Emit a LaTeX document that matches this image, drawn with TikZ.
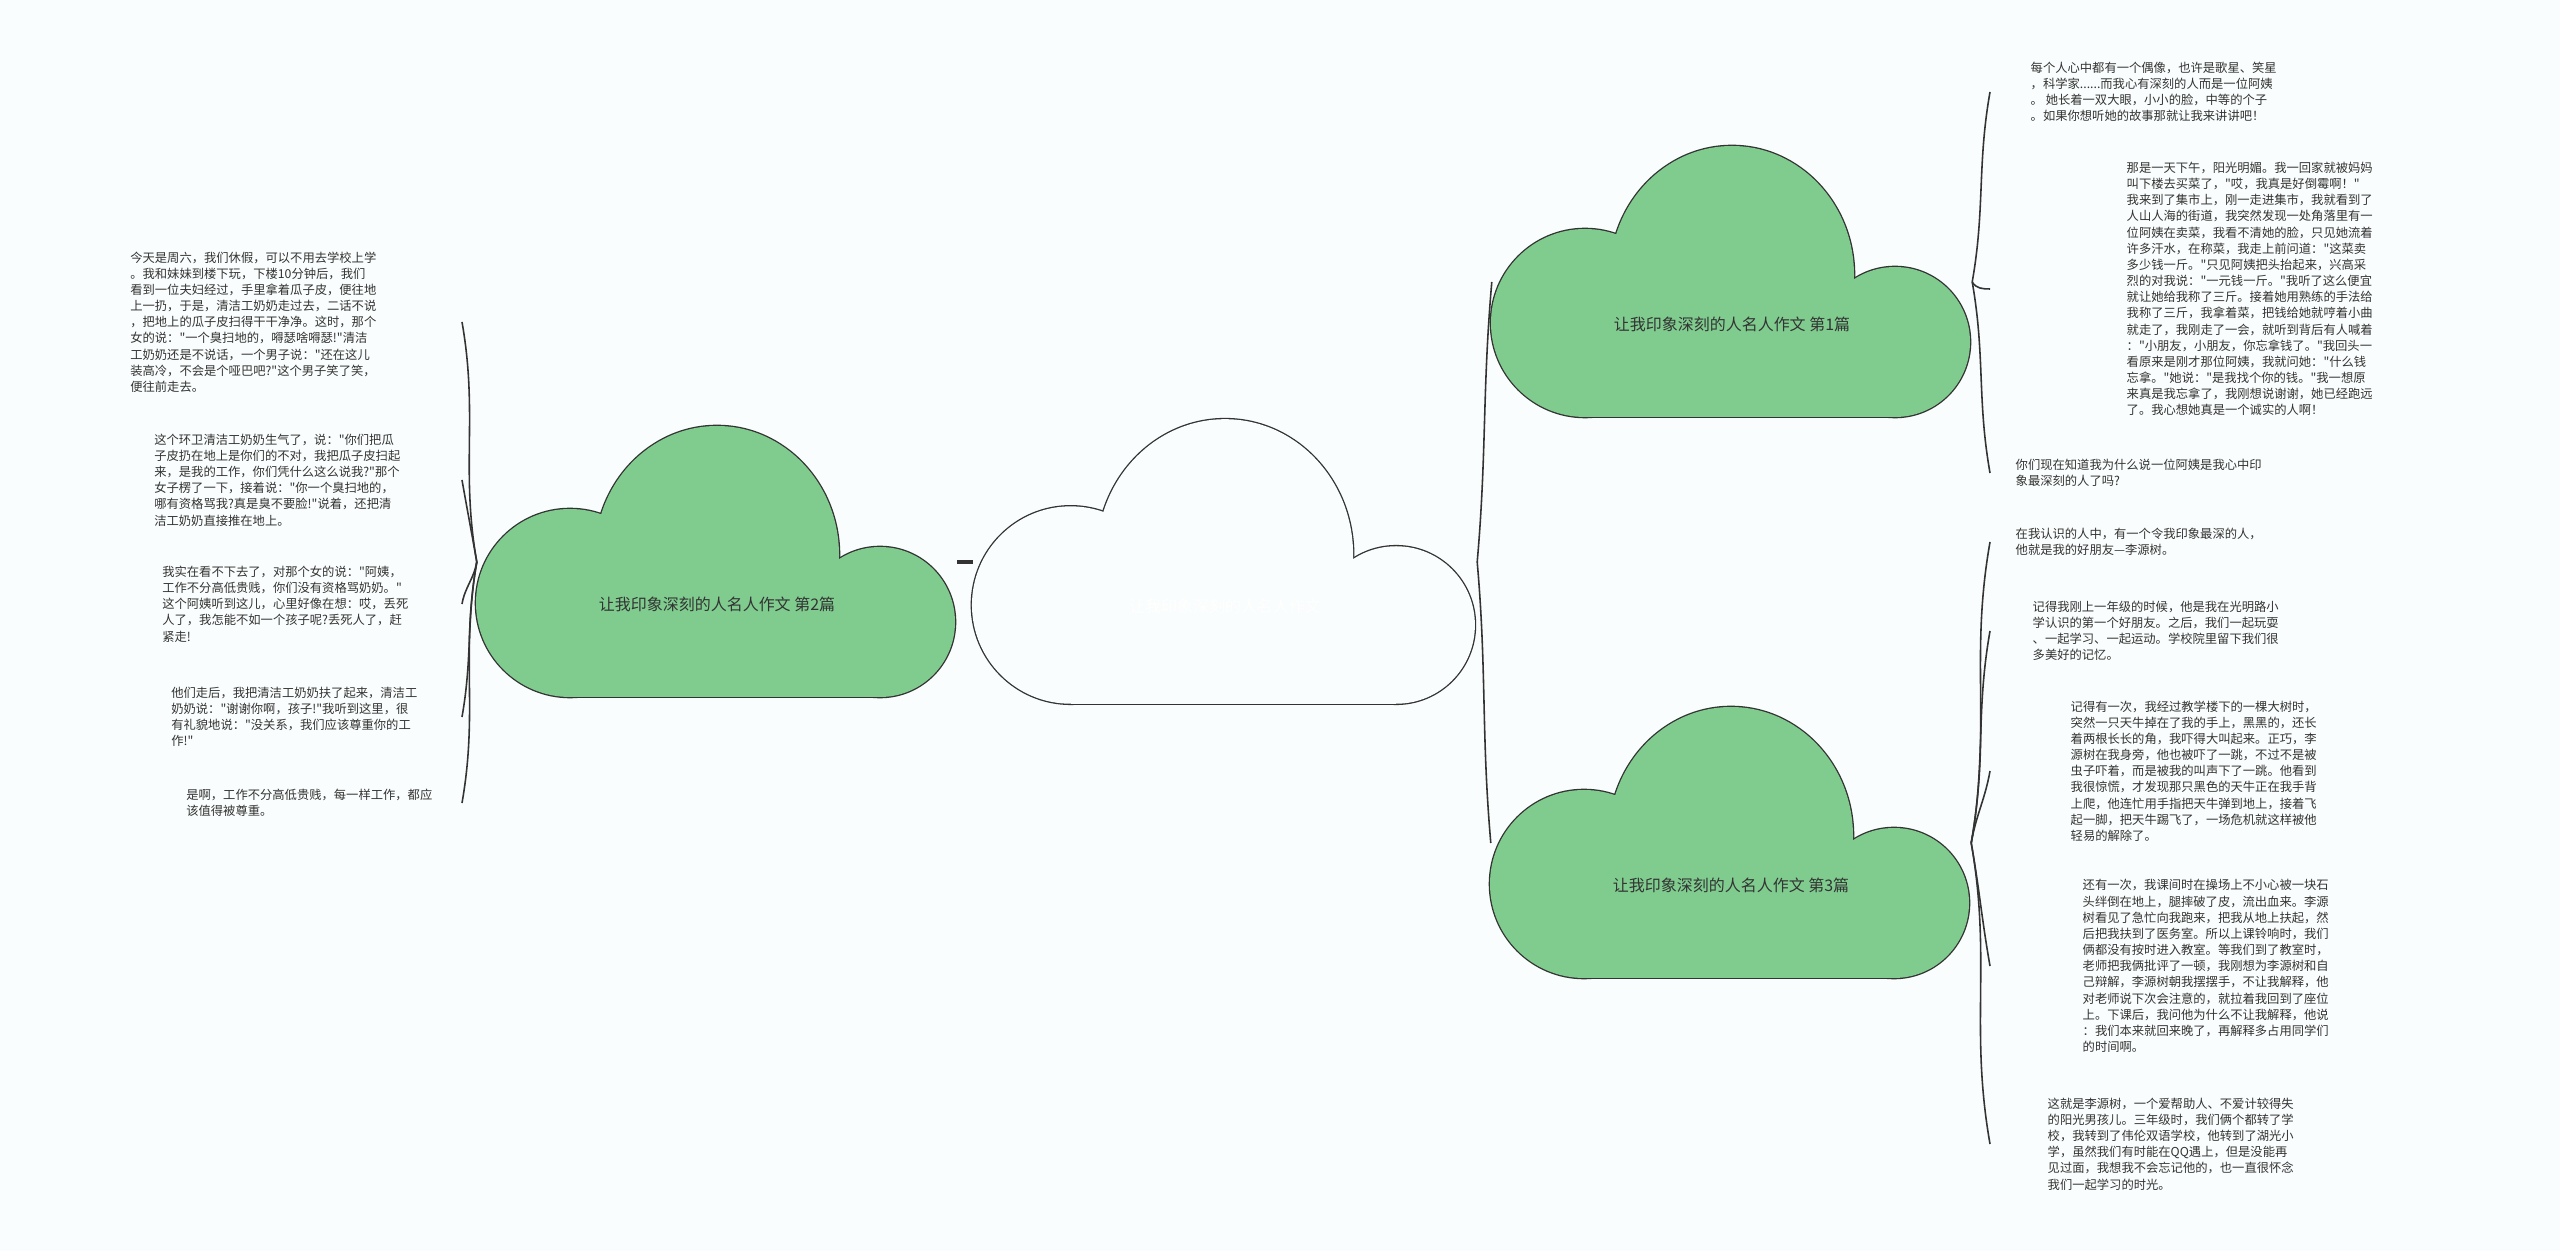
\documentclass[tikz,border=0pt]{standalone}
\usepackage{tikz}
\usepackage{fontspec}
\newfontfamily\cjk{Noto Sans CJK SC}[Ligatures=TeXOff]
\definecolor{cloudgreen}{HTML}{80CC8F}
\definecolor{bgwhite}{HTML}{FAFDFD}
\definecolor{textgray}{HTML}{333333}
\definecolor{linegray}{HTML}{333333}

\tikzset{
	pics/puff/.style={code={%
		\path[cloud edge] (-147,-41) circle[radius=94];
		\path[cloud edge] (0,7) ellipse[x radius=122,y radius=129];
		\path[cloud edge] (163,-60) circle[radius=75];
		\path[cloud edge] (-147,-10) rectangle (163,-135);
		\path[#1] (-147,-41) circle[radius=94];
		\path[#1] (0,7) ellipse[x radius=122,y radius=129];
		\path[#1] (163,-60) circle[radius=75];
		\path[#1] (-147,-10) rectangle (163,-135);
	}}
}

\begin{document}
\begin{tikzpicture}[x=0.1mm,y=0.1mm,%
	cloud edge/.style={draw=linegray, line width=0.75pt},%
	box/.style={minimum width=47.9mm, minimum height=27.1mm, inner sep=0pt},%
	title/.style={font=\cjk\fontsize{4.55}{5.5}\selectfont, text=textgray},%
	leaf/.style={font=\cjk\fontsize{3.5}{4.6}\selectfont, text=textgray, align=left, inner ysep=0pt},%
	left leaf/.style={leaf, anchor=east, text width=25mm, inner xsep=#1},%
	right leaf/.style={leaf, anchor=west, inner xsep=#1},%
	branch/.style={draw=linegray, line width=0.45pt}]
	\useasboundingbox[fill=bgwhite] (0,0) rectangle (2560,1251);

	% clouds
	\node[box, minimum width=50.3mm, minimum height=28.5mm] (c0) at (1225,689) {};
	\node[box] (c2) at (717,689) {};
	\node[box] (c1) at (1732,969) {};
	\node[box] (c3) at (1731,408) {};
	\pic[scale=1.05] at (c0) {puff={fill=bgwhite}};
	\foreach \c in {c1,c2,c3}{
		\pic at (\c) {puff={fill=cloudgreen}};
	}
	\node[title, text=white] (t0) at ([yshift=-4.4mm]c0.center) {让我印象深刻的人名人作文};
	\foreach \c/\k in {c1/1,c2/2,c3/3}{
		\node[title] (t\k) at ([yshift=-4.2mm]\c.center) {让我印象深刻的人名人作文 第\k 篇};
	}

	% left texts
	\node[left leaf=8.1mm] (l1) at (462,929) {今天是周六，我们休假，可以不用去学校上学\\
。我和妹妹到楼下玩，下楼10分钟后，我们\\
看到一位夫妇经过，手里拿着瓜子皮，便往地\\
上一扔，于是，清洁工奶奶走过去，二话不说\\
，把地上的瓜子皮扫得干干净净。这时，那个\\
女的说："一个臭扫地的，嘚瑟啥嘚瑟!"清洁\\
工奶奶还是不说话，一个男子说："还在这儿\\
装高冷，不会是个哑巴吧?"这个男子笑了笑，\\
便往前走去。};
	\node[left leaf=5.7mm] (l2) at (462,771) {这个环卫清洁工奶奶生气了，说："你们把瓜\\
子皮扔在地上是你们的不对，我把瓜子皮扫起\\
来，是我的工作，你们凭什么这么说我?"那个\\
女子楞了一下，接着说："你一个臭扫地的，\\
哪有资格骂我?真是臭不要脸!"说着，还把清\\
洁工奶奶直接推在地上。};
	\node[left leaf=4.9mm] (l3) at (462,647) {我实在看不下去了，对那个女的说："阿姨，\\
工作不分高低贵贱，你们没有资格骂奶奶。"\\
这个阿姨听到这儿，心里好像在想：哎，丢死\\
人了，我怎能不如一个孩子呢?丢死人了，赶\\
紧走!};
	\node[left leaf=4mm] (l4) at (462,534) {他们走后，我把清洁工奶奶扶了起来，清洁工\\
奶奶说："谢谢你啊，孩子!"我听到这里，很\\
有礼貌地说："没关系，我们应该尊重你的工\\
作!"};
	\node[left leaf=2.5mm] (l5) at (462,448) {是啊，工作不分高低贵贱，每一样工作，都应\\
该值得被尊重。};

	% right texts
	\node[right leaf=4mm] (r1a) at (1990,1159) {每个人心中都有一个偶像，也许是歌星、笑星\\
，科学家......而我心有深刻的人而是一位阿姨\\
。 她长着一双大眼，小小的脸，中等的个子\\
。如果你想听她的故事那就让我来讲讲吧！};
	\node[right leaf=13.6mm] (r1b) at (1990,962) {那是一天下午，阳光明媚。我一回家就被妈妈\\
叫下楼去买菜了，"哎，我真是好倒霉啊！"\\
我来到了集市上，刚一走进集市，我就看到了\\
人山人海的街道，我突然发现一处角落里有一\\
位阿姨在卖菜，我看不清她的脸，只见她流着\\
许多汗水，在称菜，我走上前问道："这菜卖\\
多少钱一斤。"只见阿姨把头抬起来，兴高采\\
烈的对我说："一元钱一斤。"我听了这么便宜\\
就让她给我称了三斤。接着她用熟练的手法给\\
我称了三斤，我拿着菜，把钱给她就哼着小曲\\
就走了，我刚走了一会，就听到背后有人喊着\\
："小朋友，小朋友，你忘拿钱了。"我回头一\\
看原来是刚才那位阿姨，我就问她："什么钱\\
忘拿。"她说："是我找个你的钱。"我一想原\\
来真是我忘拿了，我刚想说谢谢，她已经跑远\\
了。我心想她真是一个诚实的人啊！};
	\node[right leaf=2.5mm] (r1c) at (1990,778) {你们现在知道我为什么说一位阿姨是我心中印\\
象最深刻的人了吗?};
	\node[right leaf=2.5mm] (r3a) at (1990,709) {在我认识的人中，有一个令我印象最深的人，\\
他就是我的好朋友—李源树。};
	\node[right leaf=4.2mm] (r3b) at (1990,620) {记得我刚上一年级的时候，他是我在光明路小\\
学认识的第一个好朋友。之后，我们一起玩耍\\
、一起学习、一起运动。学校院里留下我们很\\
多美好的记忆。};
	\node[right leaf=8mm] (r3c) at (1990,480) {记得有一次，我经过教学楼下的一棵大树时，\\
突然一只天牛掉在了我的手上，黑黑的，还长\\
着两根长长的角，我吓得大叫起来。正巧，李\\
源树在我身旁，他也被吓了一跳，不过不是被\\
虫子吓着，而是被我的叫声下了一跳。他看到\\
我很惊慌，才发现那只黑色的天牛正在我手背\\
上爬，他连忙用手指把天牛弹到地上，接着飞\\
起一脚，把天牛踢飞了，一场危机就这样被他\\
轻易的解除了。};
	\node[right leaf=9.2mm] (r3d) at (1990,285) {还有一次，我课间时在操场上不小心被一块石\\
头绊倒在地上，腿摔破了皮，流出血来。李源\\
树看见了急忙向我跑来，把我从地上扶起，然\\
后把我扶到了医务室。所以上课铃响时，我们\\
俩都没有按时进入教室。等我们到了教室时，\\
老师把我俩批评了一顿，我刚想为李源树和自\\
己辩解，李源树朝我摆摆手，不让我解释，他\\
对老师说下次会注意的，就拉着我回到了座位\\
上。下课后，我问他为什么不让我解释，他说\\
：我们本来就回来晚了，再解释多占用同学们\\
的时间啊。};
	\node[right leaf=5.7mm] (r3e) at (1990,107) {这就是李源树，一个爱帮助人、不爱计较得失\\
的阳光男孩儿。三年级时，我们俩个都转了学\\
校，我转到了伟伦双语学校，他转到了湖光小\\
学，虽然我们有时能在QQ遇上，但是没能再\\
见过面，我想我不会忘记他的，也一直很怀念\\
我们一起学习的时光。};

	% connectors
	\draw[branch, line width=1pt] (c2.east) -- (c0.west);
	\draw[branch] (c0.east) to[out=85,in=-95] (c1.west);
	\draw[branch] (c0.east) to[out=-85,in=95] (c3.west);
	\foreach \n in {l1,l2}{
		\draw[branch] (c2.west) to[out=100,in=-80] (\n.east);
	}
	\foreach \n in {l3,l4,l5}{
		\draw[branch] (c2.west) to[out=-100,in=80] (\n.east);
	}
	\draw[branch] (c1.east) to[out=80,in=-100] (r1a.west);
	\draw[branch] (c1.east) to[out=-60,in=180] (r1b.west);
	\draw[branch] (c1.east) to[out=-80,in=100] (r1c.west);
	\foreach \n in {r3a,r3b,r3c}{
		\draw[branch] (c3.east) to[out=80,in=-100] (\n.west);
	}
	\foreach \n in {r3d,r3e}{
		\draw[branch] (c3.east) to[out=-80,in=100] (\n.west);
	}
\end{tikzpicture}
\end{document}
